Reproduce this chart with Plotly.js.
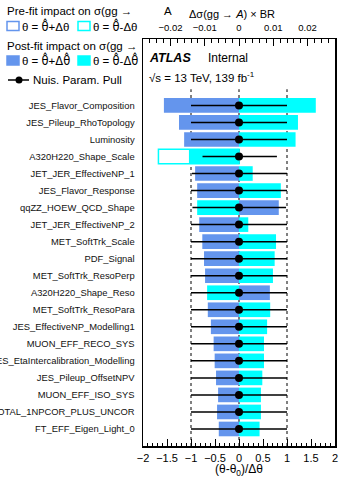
<!DOCTYPE html>
<html>
<head>
<meta charset="utf-8">
<script src="https://cdn.plot.ly/plotly-3.0.1.min.js"></script>
<style>
  html, body { margin: 0; padding: 0; background: #fff; }
  #chart { width: 340px; height: 478px; }
</style>
</head>
<body>
<div id="chart"></div>
<script>
// Nuisance parameters, ranked by impact (top to bottom)
const paramNames = [
  "JES_Flavor_Composition",
  "JES_Pileup_RhoTopology",
  "Luminosity",
  "A320H220_Shape_Scale",
  "JET_JER_EffectiveNP_1",
  "JES_Flavor_Response",
  "qqZZ_HOEW_QCD_Shape",
  "JET_JER_EffectiveNP_2",
  "MET_SoftTrk_Scale",
  "PDF_Signal",
  "MET_SoftTrk_ResoPerp",
  "A320H220_Shape_Reso",
  "MET_SoftTrk_ResoPara",
  "JES_EffectiveNP_Modelling1",
  "MUON_EFF_RECO_SYS",
  "JES_EtaIntercalibration_Modelling",
  "JES_Pileup_OffsetNPV",
  "MUON_EFF_ISO_SYS",
  "EL_EFF_ID_TOTAL_1NPCOR_PLUS_UNCOR",
  "FT_EFF_Eigen_Light_0"
];

// Post-fit impact on Δσ(gg→A)×BR for θ = θ̂+Δθ̂ and θ = θ̂-Δθ̂
const postUp = [-0.0219, -0.0175, -0.0160, null, -0.0128, -0.0122, 0.0116, -0.0116, -0.0107, -0.0102,
                -0.0099, 0.0090, -0.0091, -0.0082, -0.0074, -0.0071, -0.0067, -0.0061, -0.0064, -0.0059];
const postDown = [0.0224, 0.0172, 0.0165, -0.0146, 0.0040, 0.0122, -0.0122, 0.0027, 0.0108, 0.0104,
                  0.0099, -0.0093, 0.0091, 0.0082, 0.0073, 0.0073, 0.0068, 0.0064, 0.0064, 0.0060];

// Pre-fit impact for θ = θ̂-Δθ (only where it exceeds the post-fit bar)
const preDown = [null, null, null, -0.0235, null, null, null, null, null, null,
                 null, null, null, null, null, null, null, null, null, null];

// Pulls (θ-θ0)/Δθ with their constraints
const pullVal = [0, 0, 0, 0, 0, 0, 0, 0, 0, 0, 0, 0, 0, 0, 0, 0, 0, 0, 0, 0];
const pullErrLo = [1, 1, 1, 0.76, 0.98, 1, 0.97, 1, 1, 1, 1, 1, 1, 1, 1, 1, 1, 1, 1, 1];
const pullErrHi = [1, 1, 1, 0.79, 1, 1, 0.98, 1, 1, 1, 1, 1, 1, 1, 1, 1, 1, 1, 1, 1];

const N = paramNames.length;
const yPos = paramNames.map((_, i) => N - i);   // top row highest

const BLUE = "#6495ED";
const CYAN = "#00FFFF";
const FONT = "Liberation Sans, Arial, Helvetica, sans-serif";
const BAR_W = 0.86;

const traces = [
  {
    type: "bar", orientation: "h", x: preDown, y: yPos, width: BAR_W,
    xaxis: "x", yaxis: "y",
    marker: { color: "white", line: { color: CYAN, width: 1.5 } },
    hoverinfo: "skip", showlegend: false
  },
  {
    type: "bar", orientation: "h", x: postUp, y: yPos, width: BAR_W,
    xaxis: "x", yaxis: "y",
    marker: { color: BLUE, line: { width: 0 } },
    hoverinfo: "skip", showlegend: false
  },
  {
    type: "bar", orientation: "h", x: postDown, y: yPos, width: BAR_W,
    xaxis: "x", yaxis: "y",
    marker: { color: CYAN, line: { width: 0 } },
    hoverinfo: "skip", showlegend: false
  },
  {
    type: "scatter", mode: "markers", x: pullVal, y: yPos,
    xaxis: "x2", yaxis: "y",
    marker: { color: "black", size: 8 },
    error_x: { type: "data", symmetric: false, array: pullErrHi, arrayminus: pullErrLo,
               width: 0, thickness: 1.5, color: "black" },
    hoverinfo: "skip", showlegend: false
  }
];

// plot area in pixels: left 143, right 335, top 39, bottom 446
const L = 143, R = 335, T = 39, B = 446;
const px = v => (v - L) / (R - L);
const py = v => (B - v) / (B - T);

const shapes = [];
// reference lines at pull = -1, 0, +1
[-1, 0, 1].forEach(v => shapes.push({
  type: "line", xref: "x2", yref: "y", x0: v, x1: v, y0: 0, y1: N + 0.95,
  line: { color: "black", width: 1, dash: "dot" }, layer: "below"
}));

// legend boxes
function box(x0, y0, x1, y1, fill, edge) {
  shapes.push({ type: "rect", xref: "paper", yref: "paper",
    x0: px(x0), x1: px(x1), y0: py(y1), y1: py(y0),
    fillcolor: fill, line: { color: edge, width: 1.5 } });
}
box(7, 21.5, 19, 30.5, "white", BLUE);
box(78, 21.5, 90, 30.5, "white", CYAN);
box(7, 56, 19, 65, BLUE, BLUE);
box(78, 56, 90, 65, CYAN, CYAN);
shapes.push({ type: "line", xref: "paper", yref: "paper",
  x0: px(8), x1: px(29), y0: py(80), y1: py(80), line: { color: "black", width: 1.5 } });
shapes.push({ type: "circle", xref: "paper", yref: "paper",
  x0: px(15.5), x1: px(22.5), y0: py(83.5), y1: py(76.5),
  fillcolor: "black", line: { color: "black", width: 0 } });

function label(x, y, text, size, extra) {
  return Object.assign({ xref: "paper", yref: "paper", x: px(x), y: py(y),
    xanchor: "left", yanchor: "middle", showarrow: false, text: text,
    font: { family: FONT, size: size, color: "black" } }, extra || {});
}

const HAT = '<span style="font-family:DejaVu Sans">θ̂</span>';
const HATD = '<span style="font-family:DejaVu Sans">Δθ̂</span>';

const annotations = [
  label(5, 11, "Pre-fit impact on σ(gg →", 11.5),
  label(162, 11, "A", 11.5),
  label(20, 26, "θ = " + HAT + "+Δθ", 11.5),
  label(91, 26, "θ = " + HAT + "-Δθ", 11.5),
  label(5, 46, "Post-fit impact on σ(gg →", 11.5),
  label(20, 60.5, "θ = " + HAT + "+" + HATD, 11.5),
  label(91, 60.5, "θ = " + HAT + "-" + HATD, 11.5),
  label(31, 80, "Nuis. Param. Pull", 11.5),
  label(147, 58, "<b><i>ATLAS</i></b>", 12.5),
  label(206, 58, "Internal", 12),
  label(147, 77, "√s = 13 TeV, 139 fb<sup>-1</sup>", 11.5),
  label(232, 14, "Δσ(gg → <i>A</i>) × BR", 11, { xanchor: "center" })
];

const layout = {
  width: 340, height: 478,
  margin: { l: L, r: 340 - R, t: T, b: 478 - B, pad: 0 },
  paper_bgcolor: "white", plot_bgcolor: "white",
  font: { family: FONT, color: "black" },
  barmode: "overlay",
  showlegend: false,
  xaxis: {
    side: "top", range: [-0.028, 0.028], tick0: 0, dtick: 0.01,
    ticks: "inside", ticklen: 7, tickwidth: 1, tickcolor: "black",
    minor: { dtick: 0.002, ticks: "inside", ticklen: 3.5, tickcolor: "black" },
    showgrid: false, zeroline: false, showline: true, linecolor: "black", linewidth: 1.5,
    tickfont: { family: FONT, size: 9.5 },
    ticklabelstandoff: 3
  },
  xaxis2: {
    overlaying: "x", side: "bottom", range: [-2, 2], tick0: -2, dtick: 0.5,
    ticks: "inside", ticklen: 7, tickwidth: 1, tickcolor: "black",
    minor: { dtick: 0.1, ticks: "inside", ticklen: 3.5, tickcolor: "black" },
    showgrid: false, zeroline: false, showline: true, linecolor: "black", linewidth: 1.5,
    tickfont: { family: FONT, size: 11 },
    ticklabelstandoff: 1,
    title: { text: "(θ-θ<sub>0</sub>)/Δθ", font: { family: FONT, size: 12 }, standoff: 3 }
  },
  yaxis: {
    range: [0, N + 3.9], tickvals: yPos, ticktext: paramNames,
    ticks: "", showgrid: false, zeroline: false,
    showline: true, mirror: true, linecolor: "black", linewidth: 1.5,
    tickfont: { family: FONT, size: 9.4, color: "#111" },
    ticklabelstandoff: 5
  },
  shapes: shapes,
  annotations: annotations
};

Plotly.newPlot("chart", traces, layout, { staticPlot: true, displayModeBar: false });
</script>
</body>
</html>
